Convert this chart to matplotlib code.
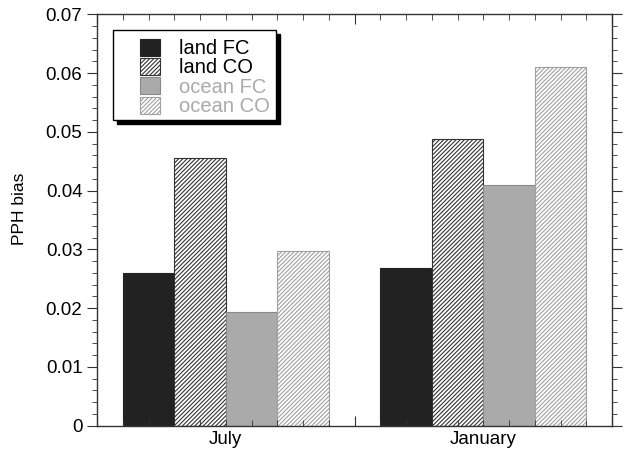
import matplotlib
matplotlib.use("Agg")
import matplotlib.pyplot as plt
from matplotlib.patches import Rectangle
from matplotlib.ticker import MultipleLocator, FormatStrFormatter

plt.rcParams['font.family'] = ['Liberation Sans', 'DejaVu Sans']
plt.rcParams['hatch.linewidth'] = 0.8

# Dati: bias PPH per mese e per tipo di superficie / schema
months = ['July', 'January']
series = ['land FC', 'land CO', 'ocean FC', 'ocean CO']
land_fc = [0.0260, 0.0268]
land_co = [0.0455, 0.0487]
ocean_fc = [0.0194, 0.0409]
ocean_co = [0.0297, 0.0610]

values = [land_fc, land_co, ocean_fc, ocean_co]
faces = ['#222222', 'white', '#aaaaaa', 'white']
edges = ['#222222', '#333333', '#888888', '#a0a0a0']
hatches = [None, '////////', None, '////////']
text_colors = ['black', 'black', '#aaaaaa', '#aaaaaa']

fig = plt.figure(figsize=(6.25, 4.53), dpi=100)
ax = fig.add_axes([0.1552, 0.0603, 0.824, 0.9081])

# ogni barra larga 2 unita', gruppi da 4 barre piu' 1 unita' di margine per lato
width = 2
group_span = width * len(series) + 2
for j, name in enumerate(series):
    xs = [i * group_span + 1 + width * j + width / 2 for i in range(len(months))]
    ax.bar(xs, values[j], width=width, color=faces[j], edgecolor=edges[j],
           hatch=hatches[j], linewidth=0.8, label=name, zorder=2)

ax.set_xlim(0, group_span * len(months))
ax.set_ylim(0, 0.07)

centers = [i * group_span + group_span / 2 for i in range(len(months))]
ax.set_xticks([i * group_span for i in range(len(months) + 1)],
              labels=[''] * (len(months) + 1))
minor = [k for k in range(group_span * len(months) + 1) if k % group_span]
minor_labels = [months[centers.index(k)] if k in centers else '' for k in minor]
ax.set_xticks(minor, labels=minor_labels, minor=True)

ax.yaxis.set_major_locator(MultipleLocator(0.01))
ax.yaxis.set_minor_locator(MultipleLocator(0.002))
ax.yaxis.set_major_formatter(FormatStrFormatter('%g'))

axcol = '#333333'
ax.tick_params(axis='x', which='both', direction='in', top=True, bottom=True,
               color=axcol, labelsize=13.5, pad=4)
ax.tick_params(axis='x', which='major', length=7)
ax.tick_params(axis='x', which='minor', length=4.5)
ax.tick_params(axis='y', which='both', direction='out', left=True, right=True,
               color=axcol, labelsize=13.5)
ax.tick_params(axis='y', which='major', length=7)
ax.tick_params(axis='y', which='minor', length=3.5)
ax.set_axisbelow(False)
for s in ax.spines.values():
    s.set_color(axcol)
    s.set_linewidth(1.0)

ax.set_ylabel('PPH bias', fontsize=12.5)
ax.yaxis.set_label_coords(-0.136, 0.527)

# riquadro della legenda con ombra nera
fx, fy, fw, fh = 0.0305, 0.743, 0.3165, 0.219
ax.add_patch(Rectangle((fx + 0.008, fy - 0.01), fw, fh, transform=ax.transAxes,
                       facecolor='black', edgecolor='black', zorder=3.9))
ax.add_patch(Rectangle((fx, fy), fw, fh, transform=ax.transAxes,
                       facecolor='white', edgecolor='black', linewidth=1.0, zorder=4))

leg = ax.legend(loc='upper left', bbox_to_anchor=(0.0835, 0.941), frameon=False,
                fontsize=14.5, borderpad=0, borderaxespad=0, handlelength=0.97,
                handleheight=0.92, handletextpad=0.97, labelspacing=0.0)
leg.set_zorder(5)
for t, c in zip(leg.get_texts(), text_colors):
    t.set_color(c)

fig.savefig('out.png', dpi=100)
